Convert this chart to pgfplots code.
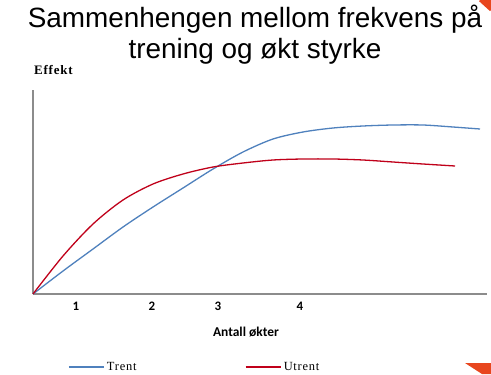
\documentclass[border=0pt]{standalone}
\usepackage{fontspec}
\usepackage{pgfplots}
\pgfplotsset{compat=1.18}
\setmainfont{Liberation Sans}
\newfontfamily\titlefont{Liberation Sans}
\newfontfamily\calfont{Carlito}
\newfontfamily\serifsp[LetterSpace=6]{Liberation Serif}
\newfontfamily\serifspb[LetterSpace=6]{Liberation Serif Bold}
\definecolor{trentblue}{HTML}{4F81BD}
\definecolor{utrentred}{HTML}{C0001A}
\definecolor{axgray}{HTML}{8C8C8C}
\definecolor{deco}{HTML}{E8461E}
\begin{document}
\begin{tikzpicture}[x=1bp,y=1bp]
\useasboundingbox (0,0) rectangle (491,374);
\fill[white] (0,0) rectangle (491,374);
\node[font=\titlefont\fontsize{28}{30}\selectfont, anchor=base] at (255,347) {Sammenhengen mellom frekvens på};
\node[font=\titlefont\fontsize{28}{30}\selectfont, anchor=base] at (255,316) {trening og økt styrke};
\fill[deco] (465,11) -- (491,11) -- (491,0) -- (482,0) -- cycle;
\fill[deco] (482,374) -- (491,374) -- (491,364) -- cycle;
\draw[deco, line width=3bp] (480,374) -- (491,364);
\begin{axis}[
  scale only axis,
  width=454bp, height=204bp,
  at={(33bp,80bp)}, anchor=south west,
  xmin=0, xmax=454, ymin=0, ymax=204,
  axis lines=left,
  axis line style={-, draw=axgray, line width=1.3pt},
  ytick=\empty,
  xtick={43,119,185,267},
  xticklabels={1,2,3,4},
  major tick length=0pt,
  /pgf/number format/assume math mode=true,
  xticklabel style={font=\calfont\bfseries\fontsize{13}{15}\selectfont, anchor=base, yshift=-16bp},
  xlabel={Antall økter},
  xlabel style={font=\calfont\bfseries\fontsize{13.5}{15}\selectfont, at={(axis description cs:0.469,-0.186)}, anchor=center},
  ylabel={Effekt},
  ylabel style={font=\serifspb\fontsize{13}{15}\selectfont, at={(axis description cs:0.045,1.098)}, anchor=center, rotate=-90},
  clip=false,
  legend columns=2,
  legend image code/.code={\draw[#1] (0bp,0bp) -- (35bp,0bp);},
  legend style={at={(axis description cs:0.077,-0.358)}, anchor=west, draw=none, fill=none,
    font=\serifsp\fontsize{12.5}{14}\selectfont, inner sep=0pt,
    nodes={inner sep=2.5bp},
    /tikz/every even column/.append style={column sep=106bp}},
]
\addplot[trentblue, line width=1.3pt, smooth] coordinates {
(0,0) (30,23) (60,45) (90,67) (120,87) (150,106) (180,125) (210,142) (240,155) (270,162) (300,166) (330,168) (360,169) (390,169) (420,167) (447,165)
};
\addlegendentry{Trent}
\addplot[utrentred, line width=1.3pt, smooth] coordinates {
(0,0) (30,38) (60,70) (90,94) (120,110) (150,120) (180,127) (210,131) (240,134) (270,135) (300,135) (330,134) (360,132) (390,130) (422,128)
};
\addlegendentry{Utrent}
\end{axis}
\end{tikzpicture}
\end{document}
